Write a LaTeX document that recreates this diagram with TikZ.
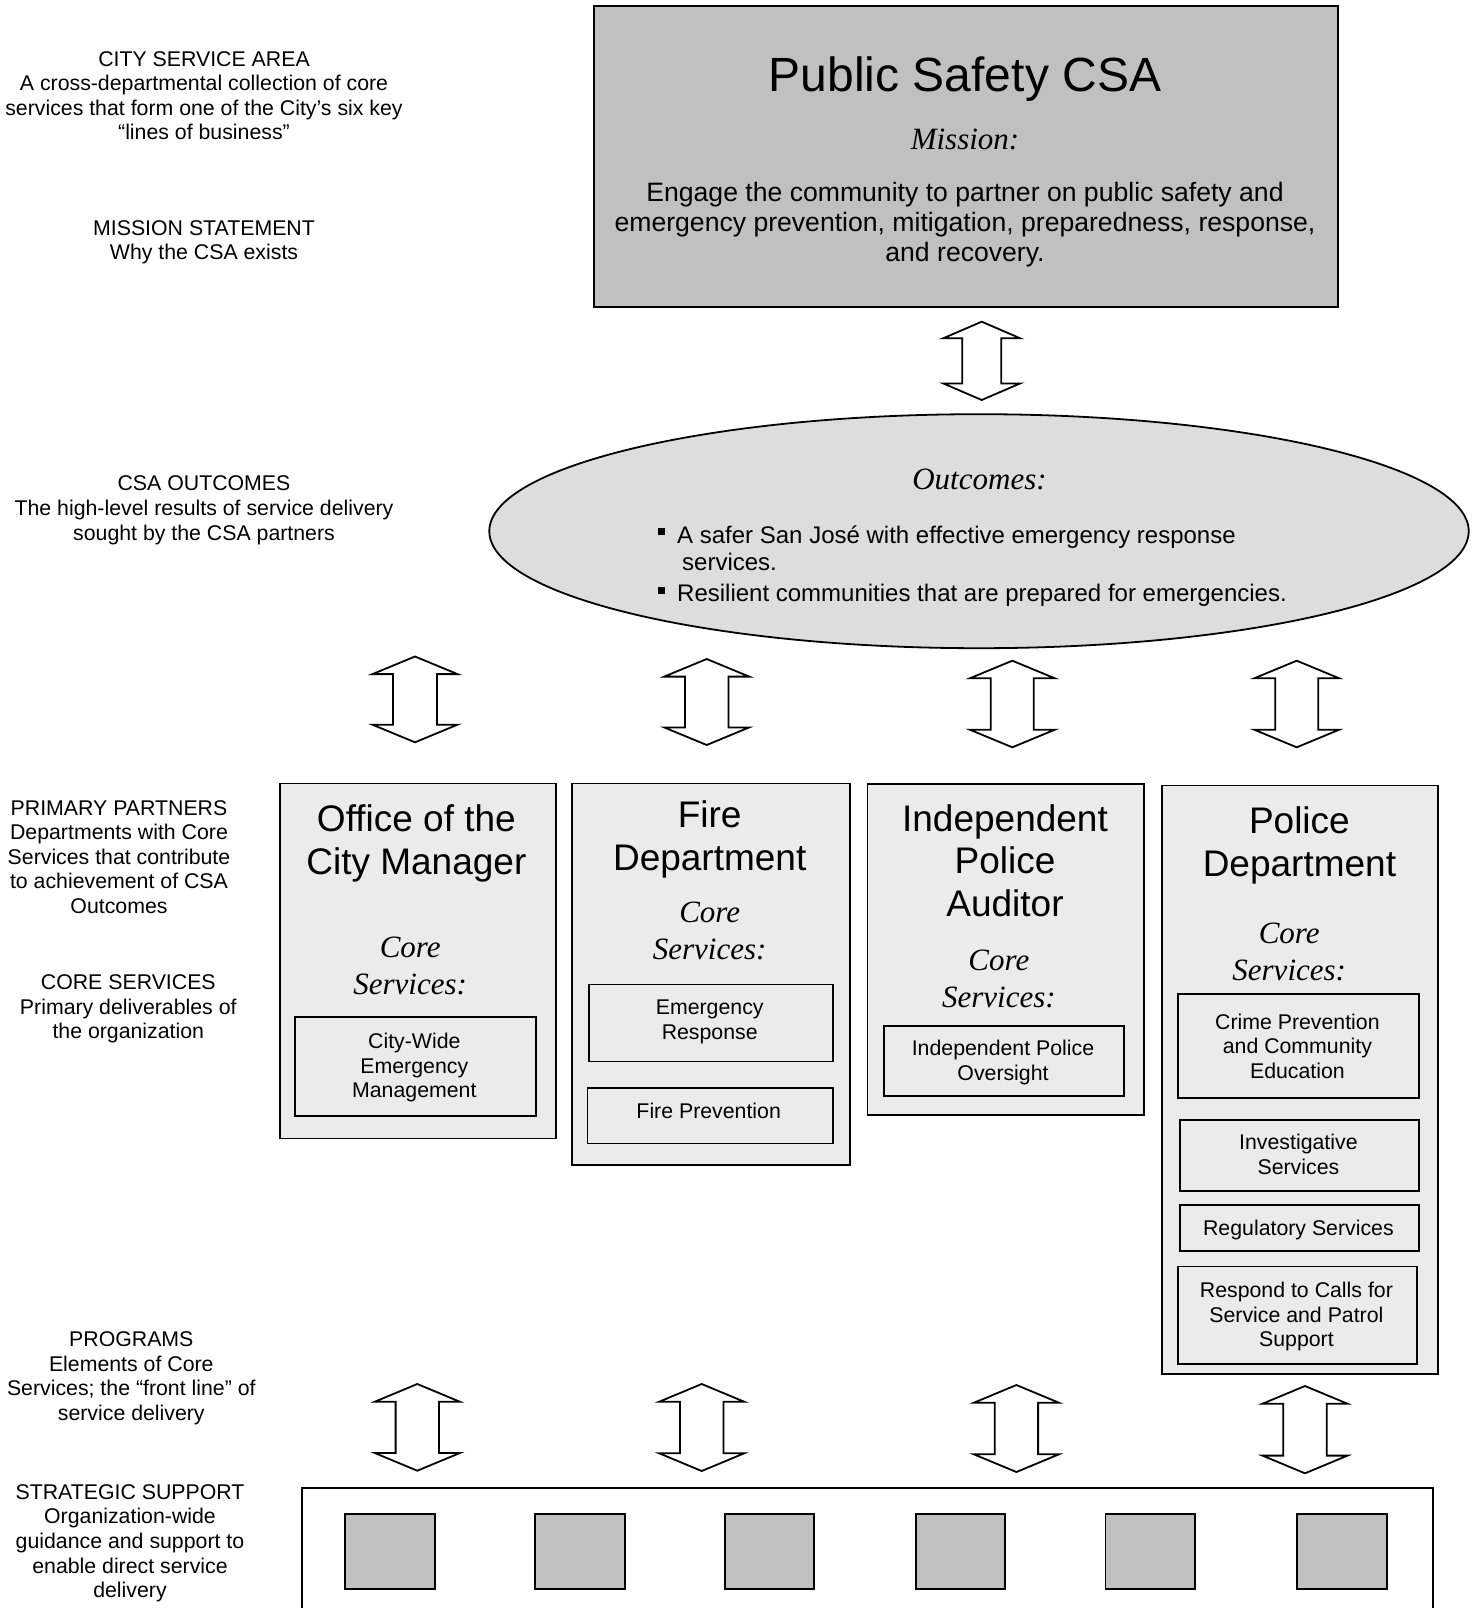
\documentclass[tikz,border=0pt]{standalone}
\usepackage{fontspec}
\setmainfont{Liberation Sans}
\newfontfamily\tnr{Liberation Serif}
\usetikzlibrary{shapes.geometric}
\definecolor{topgray}{HTML}{C0C0C0}
\definecolor{ellgray}{HTML}{DDDDDD}
\definecolor{boxgray}{HTML}{EBEBEB}
\newcommand\dblarr[6]{%
  \draw[blockarrow] (#1,#2) -- ({#1+#4},{#2+#6}) -- ({#1+#5},{#2+#6}) -- ({#1+#5},{#3-#6})
    -- ({#1+#4},{#3-#6}) -- (#1,#3) -- ({#1-#4},{#3-#6}) -- ({#1-#5},{#3-#6})
    -- ({#1-#5},{#2+#6}) -- ({#1-#4},{#2+#6}) -- cycle;}
\tikzset{
  lbl/.style={align=center, inner sep=0pt, font=\fontsize{21.3}{24.6}\selectfont},
  small/.style={align=center, inner sep=0pt, font=\fontsize{21.3}{24.6}\selectfont},
  title/.style={align=center, inner sep=0pt, font=\fontsize{37}{42.3}\selectfont},
  core/.style={align=center, inner sep=0pt, font=\tnr\itshape\fontsize{31}{36.5}\selectfont},
  deptbox/.style={draw, line width=1.8pt, fill=boxgray, inner sep=0pt, anchor=north west},
  innerbox/.style={draw, line width=1.8pt, fill=boxgray, inner sep=0pt, anchor=north west},
  sqbox/.style={draw, line width=1.8pt, fill=topgray, inner sep=0pt, anchor=north west},
  blockarrow/.style={draw, fill=white, line width=1.8pt, line join=miter},
  bul/.style={fill=black, inner sep=0pt, minimum size=7pt},
  bultext/.style={inner sep=0pt, anchor=base west, font=\fontsize{24}{28}\selectfont}
}
\begin{document}
\begin{tikzpicture}[x=1pt,y=-1pt]
\useasboundingbox (0,0) rectangle (1483,1608);

% left labels
\node[lbl] (lcsa) at (204,95.6) {CITY SERVICE AREA\\A cross-departmental collection of core\\services that form one of the City’s six key\\“lines of business”};
\node[lbl] (lmis) at (204,242.4) {MISSION STATEMENT\\Why the CSA exists};
\node[lbl] (lout) at (204,510.2) {CSA OUTCOMES\\The high-level results of service delivery\\sought by the CSA partners};
\node[lbl] (lpp) at (119,857) {PRIMARY PARTNERS\\Departments with Core\\Services that contribute\\to achievement of CSA\\Outcomes};
\node[lbl] (lcs) at (128.3,1009) {CORE SERVICES\\Primary deliverables of\\the organization};
\node[lbl] (lprog) at (131.3,1378.4) {PROGRAMS\\Elements of Core\\Services; the “front line” of\\service delivery};
\node[lbl] (lss) at (130,1543.2) {STRATEGIC SUPPORT\\Organization-wide\\guidance and support to\\enable direct service\\delivery};

% top box
\node[draw, line width=1.8pt, fill=topgray, inner sep=0pt, anchor=north west,
      minimum width=744pt, minimum height=301pt] (csa) at (593,5) {};
\node[inner sep=0pt, font=\fontsize{48}{56}\selectfont] (csat) at (965,79) {Public Safety CSA};
\node[inner sep=0pt, font=\tnr\itshape\fontsize{31}{36}\selectfont] (mist) at (965,139.5) {Mission:};
\node[align=center, inner sep=0pt, font=\fontsize{26.6}{30.3}\selectfont] (mistext) at (965,224.5)
  {Engage the community to partner on public safety and\\emergency prevention, mitigation, preparedness, response,\\and recovery.};

% arrow top
\dblarr{981.7}{321.7}{400}{38.5}{19.5}{16.6}

% ellipse
\node[ellipse, draw, line width=1.8pt, fill=ellgray, inner sep=0pt,
      minimum width=979.4pt, minimum height=234pt] (outc) at (979,531.2) {};
\node[inner sep=0pt, font=\tnr\itshape\fontsize{31}{36}\selectfont] (outt) at (979.5,479) {Outcomes:};
\node[bul] (b1) at (661.5,531.5) {};
\node[bultext] (o1) at (677,543) {A safer San José with effective emergency response};
\node[bultext] (o2) at (682,570.6) {services.};
\node[bul] (b2) at (661.5,590) {};
\node[bultext] (o3) at (677,601.4) {Resilient communities that are prepared for emergencies.};

% upper row arrows
\dblarr{415}{656.5}{742.3}{42.5}{22}{17.6}
\dblarr{706.7}{659}{745}{42.5}{21.7}{17.6}
\dblarr{1012.3}{660.7}{747.3}{42.5}{21.5}{17.6}
\dblarr{1296.7}{660.7}{747.3}{42.5}{21.5}{17.6}

% department boxes
\node[deptbox, minimum width=276pt, minimum height=355pt] (office) at (279,782.5) {};
\node[deptbox, minimum width=278pt, minimum height=381.5pt] (fire) at (571.3,782.5) {};
\node[deptbox, minimum width=276.5pt, minimum height=331pt] (ipa) at (866.5,783.3) {};
\node[deptbox, minimum width=276pt, minimum height=588.7pt] (police) at (1161,784.6) {};

\node[title] (toff) at (416.4,843.5) {Office of the\\City Manager};
\node[core] (coff) at (410.2,966) {Core\\Services:};
\node[title] (tfire) at (709.7,839.4) {Fire\\Department};
\node[core] (cfire) at (709.7,930.8) {Core\\Services:};
\node[title] (tipa) at (1005,860.5) {Independent\\Police\\Auditor};
\node[core] (cipa) at (998.9,979) {Core\\Services:};
\node[title] (tpol) at (1299.4,845.5) {Police\\Department};
\node[core] (cpol) at (1289.2,951.8) {Core\\Services:};

% inner boxes
\node[innerbox, minimum width=241.1pt, minimum height=98.4pt] (cwem) at (294.3,1016.4) {};
\node[small] (cwemt) at (414.3,1067.6) {City-Wide\\Emergency\\Management};
\node[innerbox, minimum width=244.1pt, minimum height=76.9pt] (er) at (587.7,983.6) {};
\node[small] (ert) at (709.7,1021.9) {Emergency\\Response};
\node[innerbox, minimum width=245.2pt, minimum height=55.4pt] (fp) at (586.6,1087.1) {};
\node[small] (fpt) at (708.7,1110.7) {Fire Prevention};
\node[innerbox, minimum width=240.6pt, minimum height=70pt] (ipo) at (882.7,1025) {};
\node[small] (ipot) at (1003,1062.5) {Independent Police\\Oversight};
\node[innerbox, minimum width=241pt, minimum height=104.6pt] (crime) at (1177.4,992.8) {};
\node[small] (crimet) at (1297.4,1046.1) {Crime Prevention\\and Community\\Education};
\node[innerbox, minimum width=239pt, minimum height=70.8pt] (inv) at (1179.4,1118.9) {};
\node[small] (invt) at (1298.4,1154.3) {Investigative\\Services};
\node[innerbox, minimum width=239pt, minimum height=46.2pt] (reg) at (1179.4,1204) {};
\node[small] (regt) at (1298.4,1229.6) {Regulatory Services};
\node[innerbox, minimum width=239pt, minimum height=97.4pt] (resp) at (1177.4,1265.6) {};
\node[small] (respt) at (1296.4,1316.8) {Respond to Calls for\\Service and Patrol\\Support};

% lower row arrows
\dblarr{417.3}{1384}{1470.7}{42.5}{21.7}{17.7}
\dblarr{701.7}{1384}{1471}{42.5}{21.7}{17.7}
\dblarr{1016.4}{1385}{1472}{42.5}{21.7}{17.7}
\dblarr{1305}{1386}{1473.3}{42.5}{21.7}{17.7}

% strategic support box
\coordinate (ssbl) at (302,1612);
\coordinate (ssbr) at (1433.3,1612);
\draw[line width=1.8pt] (ssbl) |- (1433.3,1487.7) -- (ssbr);
\node[sqbox, minimum width=90pt, minimum height=75.3pt] (s1) at (344,1513) {};
\node[sqbox, minimum width=89.7pt, minimum height=75.3pt] (s2) at (534,1513) {};
\node[sqbox, minimum width=89.2pt, minimum height=75.3pt] (s3) at (724.1,1513) {};
\node[sqbox, minimum width=89.2pt, minimum height=75.3pt] (s4) at (914.8,1513) {};
\node[sqbox, minimum width=89.2pt, minimum height=75.3pt] (s5) at (1104.6,1513) {};
\node[sqbox, minimum width=90pt, minimum height=75.3pt] (s6) at (1295.7,1513) {};
\end{tikzpicture}
\end{document}
